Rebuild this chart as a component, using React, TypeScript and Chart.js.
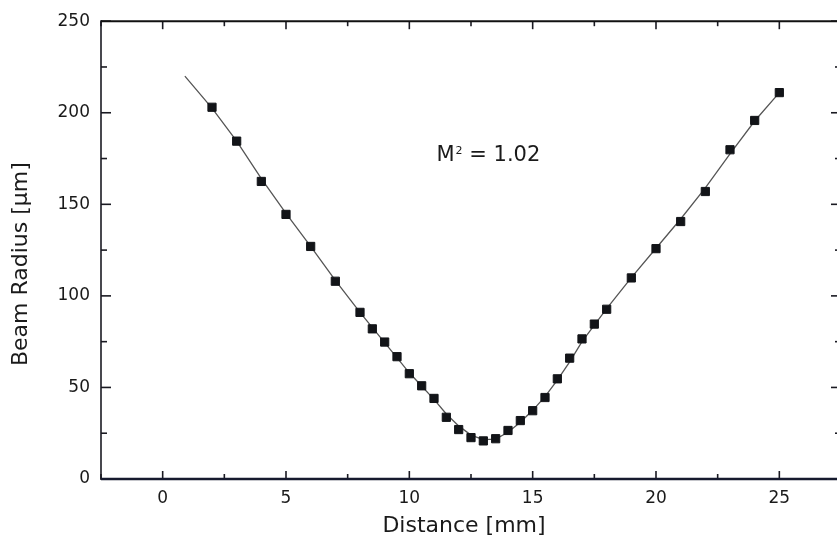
import React, { useEffect, useRef } from 'react';
import { Chart, registerables } from 'chart.js';

Chart.register(...registerables);

// Measured beam radius vs. distance
const DIST_MM = [2, 3, 4, 5, 6, 7, 8, 8.5, 9, 9.5, 10, 10.5, 11, 11.5, 12, 12.5, 13, 13.5, 14, 14.5, 15, 15.5, 16, 16.5, 17, 17.5, 18, 19, 20, 21, 22, 23, 24, 25];
const RADIUS_UM = [203, 184.5, 162.5, 144.5, 127, 108, 91, 82, 74.8, 66.8, 57.5, 50.9, 44, 33.7, 27, 22.6, 20.8, 22, 26.5, 31.9, 37.3, 44.5, 54.7, 66, 76.5, 84.6, 92.7, 109.8, 125.8, 140.6, 157, 179.8, 195.8, 211];

// Fitted curve
const FIT_DIST_MM = [0.9, 2, 3, 4, 5, 6, 7, 8, 9, 10, 11, 11.5, 12, 12.5, 13, 13.5, 14, 14.5, 15, 15.5, 16, 16.5, 17, 18, 19, 20, 21, 22, 23, 24, 25];
const FIT_RADIUS_UM = [220, 202.5, 184.5, 164, 145, 127, 108.5, 91, 74.5, 58, 43.5, 35.5, 29, 24, 21.5, 21.8, 25.5, 31, 37.5, 45, 54, 64, 75, 93, 110, 126, 142, 159, 177.5, 195.5, 211];

// Axes
const X_MIN = -2.5;
const X_MAX = 27.5;
const X_STEP = 2.5;
const X_LABEL_EVERY = 5;
const Y_MIN = 0;
const Y_MAX = 250;
const Y_STEP = 25;
const Y_LABEL_EVERY = 50;

const X_TITLE = 'Distance [mm]';
const Y_TITLE = 'Beam Radius [μm]';

// Annotation
const M2_MAIN = 'M';
const M2_SUP = '2';
const M2_REST = ' = 1.02';
const M2_ANCHOR_X = 11.1;
const M2_ANCHOR_Y = 173.7;

const FONT = '"DejaVu Sans", sans-serif';

const isMultiple = (v: number, m: number) => Math.abs(v / m - Math.round(v / m)) < 1e-6;

const framePlugin = {
  id: 'frameTicks',
  afterDraw(chart: any) {
    const { ctx, chartArea, scales } = chart;
    const { left, right, top, bottom } = chartArea;
    const xs = scales.x;
    const ys = scales.y;
    ctx.save();
    const seg = (x1: number, y1: number, x2: number, y2: number) => {
      ctx.beginPath();
      ctx.moveTo(x1, y1);
      ctx.lineTo(x2, y2);
      ctx.stroke();
    };
    ctx.strokeStyle = '#1a1a22';
    ctx.lineWidth = 1.6;
    xs.ticks.forEach((t: any) => {
      const px = xs.getPixelForValue(t.value);
      const len = isMultiple(t.value, X_LABEL_EVERY) ? 8 : 5;
      seg(px, bottom, px, bottom - len);
      seg(px, top, px, top + len);
    });
    ys.ticks.forEach((t: any) => {
      const py = ys.getPixelForValue(t.value);
      const len = isMultiple(t.value, Y_LABEL_EVERY) ? 10 : 6;
      seg(left, py, left + len, py);
      seg(right, py, right - len, py);
    });
    // frame
    ctx.lineWidth = 1.6;
    seg(left, top - 1, left, bottom + 1);
    seg(right, top - 1, right, bottom + 1);
    ctx.lineWidth = 2;
    ctx.strokeStyle = '#111111';
    seg(left, top, right, top);
    ctx.lineWidth = 2.6;
    ctx.strokeStyle = '#161a2e';
    seg(left, bottom, right, bottom);

    // annotation M^2 = 1.02
    const ax = xs.getPixelForValue(M2_ANCHOR_X);
    const ay = ys.getPixelForValue(M2_ANCHOR_Y);
    ctx.fillStyle = '#1a1a1a';
    ctx.textBaseline = 'alphabetic';
    ctx.textAlign = 'left';
    ctx.font = `21px ${FONT}`;
    ctx.fillText(M2_MAIN, ax, ay);
    const wM = ctx.measureText(M2_MAIN).width;
    ctx.font = `11px ${FONT}`;
    ctx.fillText(M2_SUP, ax + wM + 1, ay - 7);
    const wS = ctx.measureText(M2_SUP).width;
    ctx.font = `21px ${FONT}`;
    ctx.fillText(M2_REST, ax + wM + wS + 1, ay);
    ctx.restore();
  },
};

export default function App() {
  const canvasRef = useRef<HTMLCanvasElement | null>(null);

  useEffect(() => {
    const canvas = canvasRef.current;
    if (!canvas) return;
    const points = DIST_MM.map((d, i) => ({ x: d, y: RADIUS_UM[i] }));
    const fit = FIT_DIST_MM.map((d, i) => ({ x: d, y: FIT_RADIUS_UM[i] }));

    const chart = new Chart(canvas, {
      type: 'scatter',
      data: {
        datasets: [
          {
            label: 'Measured',
            data: points,
            order: 0,
            pointStyle: 'rect',
            pointRadius: 5.8,
            pointBackgroundColor: '#121418',
            pointBorderColor: '#121418',
            pointBorderWidth: 1,
            showLine: false,
          },
          {
            label: 'Fit',
            data: fit,
            order: 1,
            showLine: true,
            pointRadius: 0,
            borderColor: '#555555',
            borderWidth: 1.3,
            tension: 0,
          },
        ],
      },
      options: {
        responsive: false,
        animation: false,
        devicePixelRatio: 1,
        layout: { padding: { top: 17, right: 3, bottom: 0, left: 0 } },
        plugins: {
          legend: { display: false },
          tooltip: { enabled: false },
        },
        scales: {
          x: {
            type: 'linear',
            min: X_MIN,
            max: X_MAX,
            grid: { display: false, drawTicks: false },
            border: { display: false },
            ticks: {
              stepSize: X_STEP,
              autoSkip: false,
              maxRotation: 0,
              padding: 9,
              color: '#1a1a1a',
              font: { family: FONT, size: 17 },
              callback: (v: any) => (isMultiple(Number(v), X_LABEL_EVERY) ? String(v) : ''),
            },
            title: {
              display: true,
              text: X_TITLE + '  ',
              color: '#1a1a1a',
              font: { family: FONT, size: 22 },
              padding: { top: 0, bottom: 1 },
            },
            afterFit: (s: any) => {
              s.height = 61;
            },
          },
          y: {
            type: 'linear',
            min: Y_MIN,
            max: Y_MAX,
            grid: { display: false, drawTicks: false },
            border: { display: false },
            ticks: {
              stepSize: Y_STEP,
              autoSkip: false,
              padding: 11,
              color: '#1a1a1a',
              font: { family: FONT, size: 17 },
              callback: (v: any) => (isMultiple(Number(v), Y_LABEL_EVERY) ? String(v) : ''),
            },
            title: {
              display: true,
              text: Y_TITLE + '    ',
              color: '#1a1a1a',
              font: { family: FONT, size: 22 },
              padding: { top: 8, bottom: 0 },
            },
            afterFit: (s: any) => {
              s.width = 101;
            },
          },
        },
      },
      plugins: [framePlugin],
    });
    return () => chart.destroy();
  }, []);

  return (
    <div style={{ position: 'fixed', left: 0, top: 0, width: 837, height: 540, overflow: 'hidden', background: '#ffffff' }}>
      <canvas ref={canvasRef} width={850} height={540} style={{ display: 'block' }} />
    </div>
  );
}
